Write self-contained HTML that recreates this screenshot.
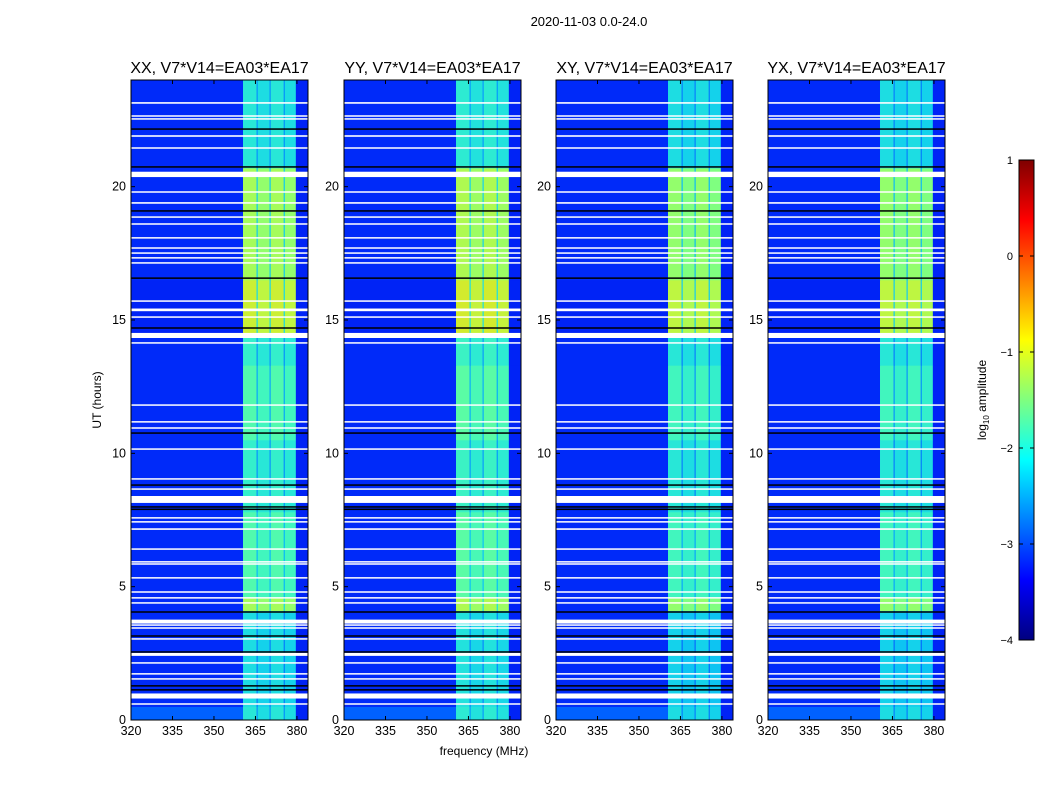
<!DOCTYPE html>
<html><head><meta charset="utf-8"><style>
body{margin:0;background:#fff;}
svg text{font-family:"Liberation Sans",sans-serif;fill:#000;}
</style></head><body>
<svg id="fig" width="1050" height="800" xmlns="http://www.w3.org/2000/svg">
<defs>
<linearGradient id="jet" x1="0" y1="1" x2="0" y2="0">
<stop offset="0" stop-color="#00007f"/><stop offset="0.125" stop-color="#0000ff"/>
<stop offset="0.375" stop-color="#00ffff"/><stop offset="0.625" stop-color="#ffff00"/>
<stop offset="0.875" stop-color="#ff0000"/><stop offset="1" stop-color="#7f0000"/>
</linearGradient>
</defs>
<text x="589" y="26" font-size="13" text-anchor="middle">2020-11-03 0.0-24.0</text>
<g id="panels"></g>
<text x="484" y="755" font-size="12" text-anchor="middle">frequency (MHz)</text>
<text transform="translate(101,400) rotate(-90)" font-size="12" text-anchor="middle">UT (hours)</text>
<g>
<rect x="1019" y="160" width="15" height="480" fill="url(#jet)" stroke="#000" stroke-width="1"/>
<g id="cbticks"></g>
<text transform="translate(986,400) rotate(-90)" font-size="12" text-anchor="middle">log<tspan font-size="8" dy="3">10</tspan><tspan dy="-3"> amplitude</tspan></text>
</g>
</svg>
<script>
const panelTitles = ["XX, V7*V14=EA03*EA17","YY, V7*V14=EA03*EA17","XY, V7*V14=EA03*EA17","YX, V7*V14=EA03*EA17"];
const panelLeft = [131,344,556,768];
const panelOffset = [0, 0.05, -0.1, -0.1];
const freqTicks = [320,335,350,365,380];
const timeTicks = [0,5,10,15,20];
const cbTicks = [1,0,-1,-2,-3,-4];
const colEdges = [320,360.5,365.4,365.8,370.1,370.5,375.2,375.6,379.6,384];
const colIsBand = [0,1,0,1,0,1,0,1,0];
const colBias = [0,0.05,0,-0.05,0,0.05,0,-0.05,0];
const segEdges = [0,0.5,4.1,4.6,7.8,10.5,13.3,14.5,16.5,20.7,24];
const bgLevel = [-2.9,-3.2,-3.2,-3.2,-3.2,-3.2,-3.2,-3.25,-3.2,-3.2];
const bandLevel = [-2.1,-2.2,-1.35,-1.8,-2.0,-1.8,-2.0,-1.1,-1.35,-2.1];
const gapLevel = [-2.7,-2.8,-2.3,-2.5,-2.7,-2.6,-2.7,-2.3,-2.4,-2.7];
const edgeLevel = -3.25;
const whiteHours = [23.14,22.65,22.54,21.9,21.45,20.46,19.8,19.39,18.86,18.6,18.08,17.7,17.51,17.33,17.14,15.71,15.38,15.11,14.42,14.14,11.81,11.18,10.95,10.16,9.04,8.66,8.27,7.58,7.43,7.16,6.41,5.93,5.85,5.33,4.8,4.58,4.39,3.69,3.56,3.45,3.04,2.46,2.14,1.73,1.54,0.9,0.6];
const whiteThick = [0.06,0.05,0.05,0.06,0.05,0.2,0.05,0.06,0.05,0.05,0.05,0.05,0.05,0.05,0.05,0.05,0.1,0.05,0.19,0.05,0.05,0.05,0.05,0.05,0.05,0.05,0.26,0.05,0.05,0.06,0.05,0.05,0.04,0.05,0.05,0.04,0.05,0.15,0.05,0.05,0.05,0.11,0.05,0.05,0.05,0.19,0.05];
const blackHours = [22.16,20.74,19.09,16.57,14.7,10.76,8.81,7.99,7.9,4.05,3.15,2.55,1.28,1.13];

const NS="http://www.w3.org/2000/svg";
const W=177, H=640, TOP=80;
function jetRGB(v){let t=(v+4)/5;t=Math.max(0,Math.min(1,t));
 const f=x=>Math.max(0,Math.min(1,x));
 return [f(Math.min(4*t-1.5,-4*t+4.5)),f(Math.min(4*t-0.5,-4*t+3.5)),f(Math.min(4*t+0.5,-4*t+2.5))];}
// colour of a noisy pixel field: mean of jet over a spread around the level
function jet(v,spread){const n=9;let a=[0,0,0];
 for(let i=0;i<n;i++){const c=jetRGB(v+spread*(i/(n-1)*2-1));a[0]+=c[0];a[1]+=c[1];a[2]+=c[2];}
 return `rgb(${Math.round(a[0]/n*255)},${Math.round(a[1]/n*255)},${Math.round(a[2]/n*255)})`;}
function el(tag,attrs,parent){const e=document.createElementNS(NS,tag);for(const k in attrs)e.setAttribute(k,attrs[k]);parent.appendChild(e);return e;}
const root=document.getElementById('panels');
panelLeft.forEach((L,p)=>{
 const xs=f=>L+(f-320)/(384-320)*W;
 const ys=h=>TOP+H-h/24*H;
 const g=el('g',{},root);
 
 
 const hm=el('g',{},g);
 
 
 for(let s=0;s<segEdges.length-1;s++){
  for(let c=0;c<colEdges.length-1;c++){
   let v,sp=0.35;
   if(c===colEdges.length-2) v=edgeLevel;
   else if(colIsBand[c]){v=bandLevel[s]+panelOffset[p]+colBias[c];sp=0.55;}
   else if(c>0) v=gapLevel[s]+panelOffset[p];
   else v=bgLevel[s];
   const x0=xs(colEdges[c]),x1=xs(colEdges[c+1]),y0=ys(segEdges[s+1]),y1=ys(segEdges[s]);
   const r=el('rect',{x:x0,y:y0,width:x1-x0+0.3,height:y1-y0+0.3,fill:jet(v,sp)},hm);
   
   
  }
 }
 blackHours.forEach(h=>{const r=el('rect',{x:L,y:ys(h)-0.75,width:W,height:1.5,fill:'#000'},hm);
  
  });
 whiteHours.forEach((h,i)=>{const t=Math.max(whiteThick[i]/24*H,1.5);const r=el('rect',{x:L,y:ys(h)-t/2,width:W,height:t,fill:'#fff'},hm);
  
  });
 el('rect',{x:L,y:TOP,width:W,height:H,fill:'none',stroke:'#000','stroke-width':1},g);
 const tt=el('text',{x:L+W/2,y:TOP-7,'font-size':16,'text-anchor':'middle'},g);
 tt.textContent=panelTitles[p];
 
 
 freqTicks.forEach(f=>{const x=xs(f);
  el('line',{x1:x,x2:x,y1:TOP+H,y2:TOP+H-4,stroke:'#000'},g);
  el('line',{x1:x,x2:x,y1:TOP,y2:TOP+4,stroke:'#000'},g);
  const t=el('text',{x:x,y:TOP+H+15,'font-size':12.5,'text-anchor':'middle'},g);t.textContent=f;
  
  });
 timeTicks.forEach(h=>{const y=ys(h);
  el('line',{x1:L,x2:L+4,y1:y,y2:y,stroke:'#000'},g);
  el('line',{x1:L+W,x2:L+W-4,y1:y,y2:y,stroke:'#000'},g);
  const t=el('text',{x:L-5,y:y+4,'font-size':12.5,'text-anchor':'end'},g);t.textContent=h;
  
  });
});
const cb=document.getElementById('cbticks');
cbTicks.forEach(v=>{const y=640-(v+4)/5*480;
 el('line',{x1:1019,x2:1023,y1:y,y2:y,stroke:'#000'},cb);
 el('line',{x1:1034,x2:1030,y1:y,y2:y,stroke:'#000'},cb);
 const t=el('text',{x:1013,y:y+4,'font-size':11,'text-anchor':'end'},cb);t.textContent=v<0?'\u2212'+(-v):v;
 
 });
</script>
</body></html>
